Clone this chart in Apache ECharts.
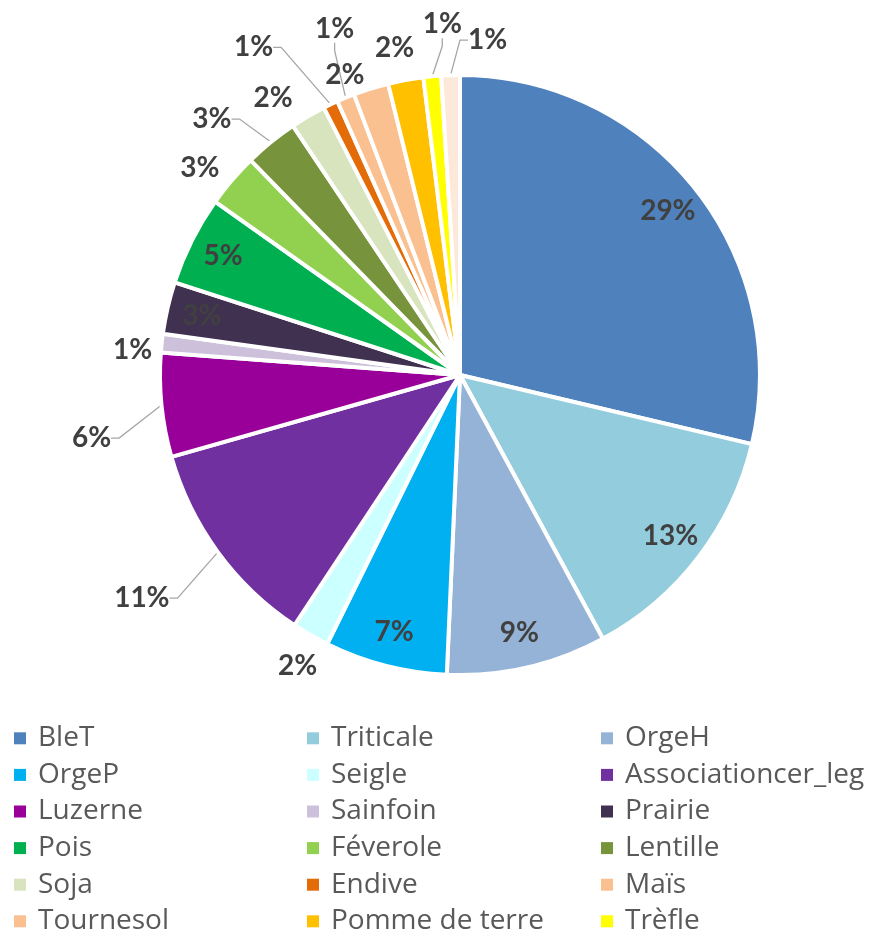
<!DOCTYPE html>
<html>
<head>
<meta charset="utf-8">
<script src="https://cdn.jsdelivr.net/npm/echarts@6/dist/echarts.min.js"></script>
<style>
  html, body { margin: 0; padding: 0; background: #ffffff; }
  #chart { width: 874px; height: 931px; }
</style>
</head>
<body>
<div id="chart"></div>
<script>
// Crop shares (%), clockwise from 12 o'clock
const categories = ['BleT', 'Triticale', 'OrgeH', 'OrgeP', 'Seigle', 'Associationcer_leg',
  'Luzerne', 'Sainfoin', 'Prairie', 'Pois', 'Féverole', 'Lentille', 'Soja', 'Endive',
  'Maïs', 'Tournesol', 'Pomme de terre', 'Trèfle', 'Autres'];
const shares = [28.7, 13.4, 8.6, 6.6, 2.0, 11.3, 5.6, 1.0, 2.8, 4.8, 2.9, 2.9, 1.9, 0.8,
  0.95, 1.9, 1.9, 0.95, 1.0];
const colors = ['#4f81bd', '#93cddd', '#95b3d7', '#00b0f0', '#ccffff', '#7030a0',
  '#990099', '#ccc0da', '#403151', '#00b050', '#92d050', '#77933c', '#d7e4bd', '#e36c09',
  '#fac090', '#fac090', '#ffc000', '#ffff00', '#fde9d9'];
// legend rows (three columns, row-major)
const legendNames = categories.slice(0, 18);

// labels drawn inside their slice
const insideLabels = ['BleT', 'Triticale', 'OrgeH', 'OrgeP', 'Prairie', 'Pois'];
// labels placed from the slice's outer edge point: [shift x, shift y, leader line]
const edgeLabels = {
  'Seigle': [-13, 31, false],
  'Associationcer_leg': [-76, 46, true],
  'Luzerne': [-70, 33, true],
  'Sainfoin': [-29, 7, false],
  'Féverole': [-32, -12, false],
  'Lentille': [-59, -23, true],
  'Soja': [-35, -18, false],
  'Endive': [-77, -57, true],
  'Maïs': [-11, -69, true],
  'Tournesol': [-26, -14, false],
  'Pomme de terre': [-11, -32, false],
  'Trèfle': [10, -52, true],
  'Autres': [37, -35, true]
};

const CENTER = [460, 375];
const R = 300;
const labelFont = {
  fontFamily: 'Lato', fontWeight: 'bold', fontSize: 28, color: '#404040'
};
const pct = p => Math.round(p.percent) + '%';

function labelRing(r0, r1, names) {
  return {
    type: 'pie',
    center: CENTER,
    radius: [r0, r1],
    startAngle: 90,
    silent: true,
    legendHoverLink: false,
    avoidLabelOverlap: false,
    emphasis: { disabled: true },
    itemStyle: { color: 'rgba(0,0,0,0)', borderWidth: 0 },
    label: Object.assign({ show: true, position: 'inside', formatter: pct }, labelFont),
    labelLine: { show: false },
    data: categories.map((n, i) => ({
      name: n, value: shares[i], label: { show: names.includes(n) }
    }))
  };
}

const chart = echarts.init(document.getElementById('chart'), null, { renderer: 'canvas' });

const legends = [0, 1, 2].map(col => ({
  orient: 'vertical',
  left: [14, 307, 601][col],
  top: 720,
  height: 260,
  padding: 0,
  itemGap: 0,
  itemWidth: 26,
  itemHeight: 12,
  icon: 'path://M0,0H12V12H0Z',
  itemStyle: { borderWidth: 0 },
  selectedMode: false,
  textStyle: { fontFamily: 'Open Sans', fontSize: 28, color: '#595959', lineHeight: 36.6 },
  data: legendNames.filter((n, i) => i % 3 === col)
}));

chart.setOption({
  animation: false,
  backgroundColor: '#ffffff',
  legend: legends,
  series: [
    {
      type: 'pie',
      center: CENTER,
      radius: R,
      startAngle: 90,
      avoidLabelOverlap: false,
      emphasis: { disabled: true },
      itemStyle: { borderColor: '#ffffff', borderWidth: 4 },
      label: Object.assign({ show: false, position: 'outside', formatter: pct }, labelFont),
      labelLine: {
        show: true, length: 20, length2: 8,
        lineStyle: { color: '#a6a6a6', width: 1.3 }
      },
      labelLayout: function (p) {
        const s = edgeLabels[categories[p.dataIndex]];
        if (!s || !p.labelLinePoints) return;
        const e = p.labelLinePoints[0];
        return { x: e[0] + s[0], y: e[1] + s[1], align: 'center', verticalAlign: 'middle' };
      },
      data: categories.map((n, i) => {
        const s = edgeLabels[n];
        return {
          name: n,
          value: shares[i],
          itemStyle: { color: colors[i] },
          label: { show: !!s },
          labelLine: { show: !!s && s[2] }
        };
      })
    },
    labelRing(240, 284, insideLabels)
  ]
});
</script>
</body>
</html>
